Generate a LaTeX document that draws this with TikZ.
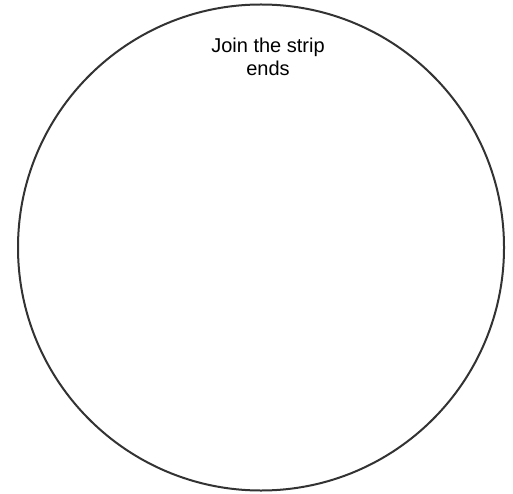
\documentclass[tikz,border=0pt]{standalone}
\usepackage{fontspec}
\setmainfont{Liberation Sans}
\usepackage{tikz}
\usetikzlibrary{positioning}

\begin{document}
\begin{tikzpicture}[x=1pt,y=1pt,
  ring/.style={circle,draw=black!80,line width=2pt,minimum size=486pt,inner sep=0pt},
  caption text/.style={font=\fontsize{20}{23}\selectfont,align=center,inner sep=0pt}]
\useasboundingbox (0,0) rectangle (513,493);
\node[ring] at (261,245.5) (Ring) {};
\node[caption text,anchor=north] at (268,455.5) (Join) {Join the strip\\ends};
\end{tikzpicture}
\end{document}
